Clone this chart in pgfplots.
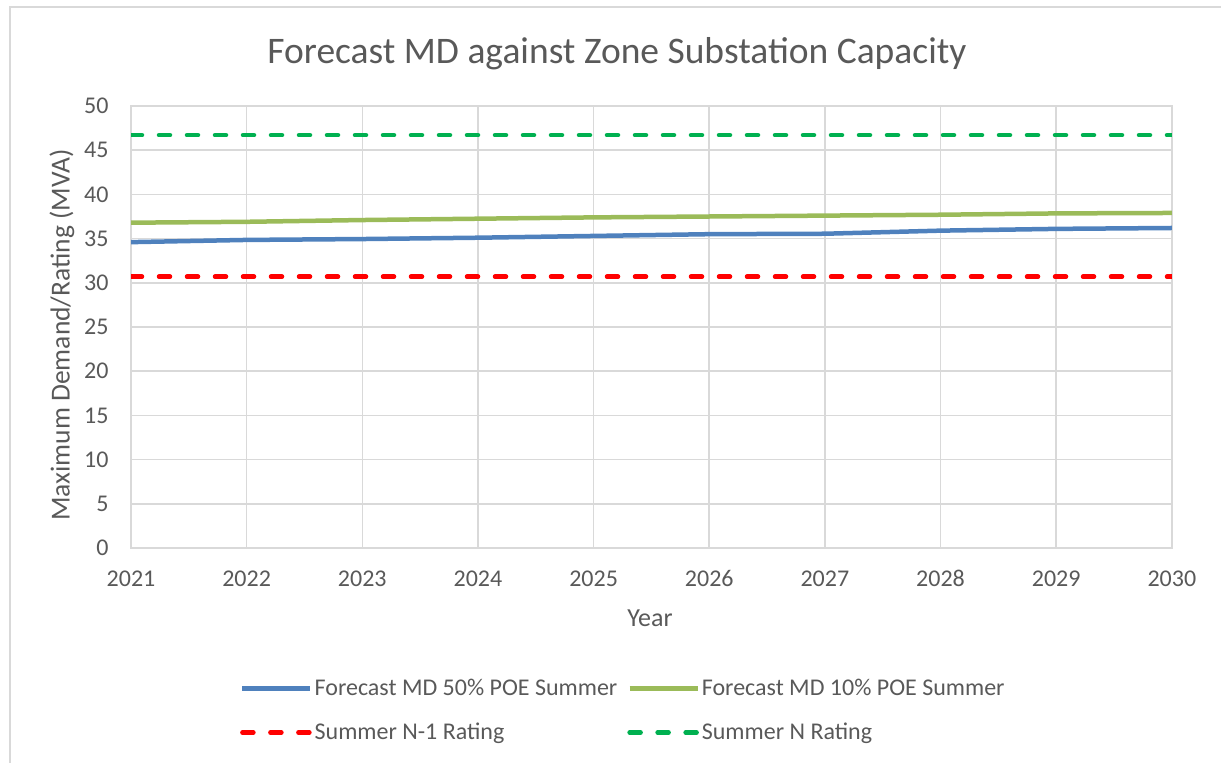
\documentclass[border=0pt]{standalone}
\usepackage{pgfplots}
\pgfplotsset{compat=1.18}
\usepackage{fontspec}
\setmainfont{Carlito}
\definecolor{txt}{HTML}{595959}
\definecolor{gridc}{HTML}{D9D9D9}
\definecolor{sblue}{HTML}{4F81BD}
\definecolor{sgreen}{HTML}{9BBB59}
\definecolor{sred}{HTML}{FF0000}
\definecolor{sdgreen}{HTML}{00B050}
\begin{document}
\begin{tikzpicture}[x=1pt,y=1pt]
\useasboundingbox (0,0) rectangle (1221,763);
\draw[gridc, line width=2pt] (10,0) -- (10,756) -- (1221,756);
\node[txt, font=\fontsize{37.5}{44}\selectfont] at (617,709) {Forecast MD against Zone Substation Capacity};
\node[txt, rotate=90, font=\fontsize{27.5}{32}\selectfont] at (62,428) {Maximum Demand/Rating (MVA)};
\node[txt, font=\fontsize{26}{31}\selectfont] at (650,145) {Year};
\begin{axis}[
  at={(131pt,215pt)}, anchor=south west,
  scale only axis, width=1041pt, height=442pt,
  xmin=2021, xmax=2030, ymin=0, ymax=50,
  xtick={2021,...,2030}, ytick={0,5,...,50},
  /pgf/number format/.cd, 1000 sep={}, assume math mode=true,
  /pgfplots/.cd,
  grid=major,
  major grid style={gridc, line width=1.5pt},
  axis line style={gridc, line width=1.5pt},
  major tick length=0pt,
  tick label style={txt, font=\fontsize{24}{29}\selectfont},
  xticklabel style={text height=16pt, text depth=0pt, yshift=-19pt},
  yticklabel style={xshift=-19pt},
  legend columns=2,
  legend cell align=left,
  legend style={draw=none, fill=none, at={(0.473,-0.3676)}, anchor=center,
    font=\fontsize{24}{29}\selectfont, text=txt,
    row sep=22pt,
    /tikz/every even column/.append style={column sep=8pt}},
  legend image code/.code={\draw[#1] (0pt,0pt) -- (68pt,0pt);},
]
\addplot[sblue, line width=4.5pt] coordinates {(2021,34.6) (2022,34.85) (2023,34.95) (2024,35.1) (2025,35.3) (2026,35.5) (2027,35.55) (2028,35.9) (2029,36.1) (2030,36.2)};
\addlegendentry{Forecast MD 50\% POE Summer}
\addplot[sgreen, line width=4.5pt] coordinates {(2021,36.8) (2022,36.9) (2023,37.1) (2024,37.25) (2025,37.4) (2026,37.5) (2027,37.6) (2028,37.7) (2029,37.85) (2030,37.9)};
\addlegendentry{Forecast MD 10\% POE Summer}
\addplot[sred, line width=4.5pt, line cap=round, dash pattern=on 11pt off 17pt] coordinates {(2021,30.7) (2030,30.7)};
\addlegendentry{Summer N-1 Rating}
\addplot[sdgreen, line width=4.5pt, line cap=round, dash pattern=on 11pt off 17pt] coordinates {(2021,46.7) (2030,46.7)};
\addlegendentry{Summer N Rating}
\end{axis}
\end{tikzpicture}
\end{document}
